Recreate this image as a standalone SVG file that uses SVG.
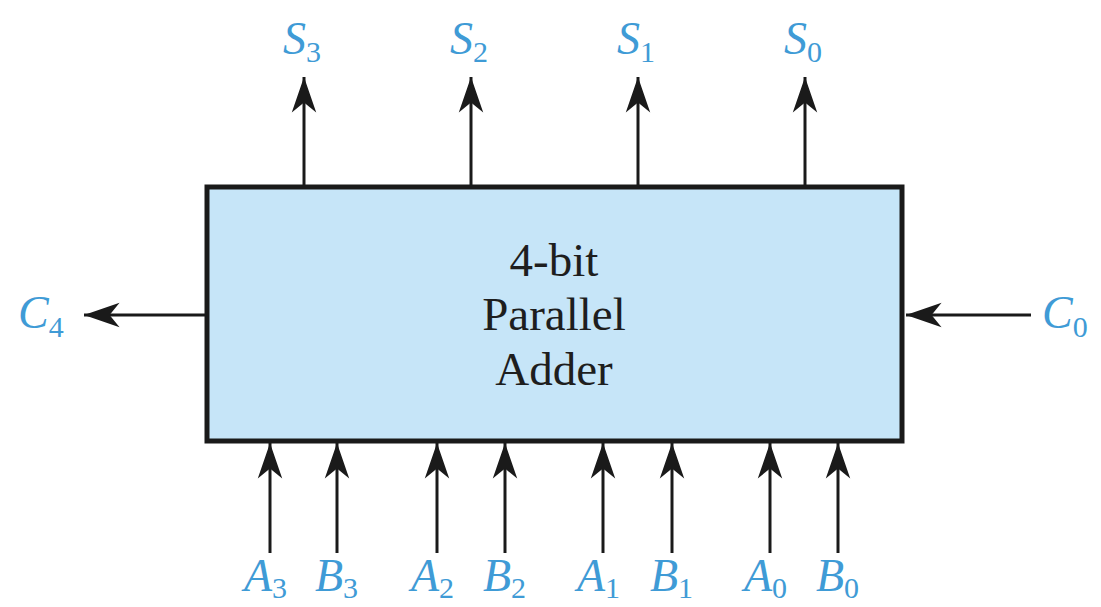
<svg xmlns="http://www.w3.org/2000/svg" width="1101" height="607" viewBox="0 0 1101 607">
<style>
.lbl{font-family:"Liberation Serif","Times New Roman",serif;font-size:46px;fill:#3f9bd6;font-style:italic}
.sub{font-style:normal;font-size:30px}
.wire{stroke:#1a1a1a;stroke-width:3;fill:none;marker-end:url(#ah)}
.body{font-family:"Liberation Serif","Times New Roman",serif;font-size:47px;fill:#1e1e1e;text-anchor:middle}
</style>
<defs>
<marker id="ah" markerUnits="userSpaceOnUse" markerWidth="40" markerHeight="30" viewBox="-34 -13 36 26" refX="0" refY="0" orient="auto">
<path d="M0,0 L-32,-11 L-23,0 L-32,11 Z" fill="#1a1a1a"/>
</marker>
</defs>
<g id="adder">
<rect x="207" y="187" width="695" height="254" fill="#c6e5f8" stroke="#1a1a1a" stroke-width="5"/>
<text class="body" x="554" y="276">4-bit</text>
<text class="body" x="554" y="330">Parallel</text>
<text class="body" x="554" y="385">Adder</text>
</g>
<g id="connectors">
<line class="wire" x1="304" y1="185" x2="304" y2="77"/>
<line class="wire" x1="471" y1="185" x2="471" y2="77"/>
<line class="wire" x1="638" y1="185" x2="638" y2="77"/>
<line class="wire" x1="805" y1="185" x2="805" y2="77"/>
<line class="wire" x1="205" y1="315" x2="84" y2="315"/>
<line class="wire" x1="1031" y1="315" x2="906" y2="315"/>
<line class="wire" x1="270" y1="553" x2="270" y2="443"/>
<line class="wire" x1="337" y1="553" x2="337" y2="443"/>
<line class="wire" x1="437" y1="553" x2="437" y2="443"/>
<line class="wire" x1="505" y1="553" x2="505" y2="443"/>
<line class="wire" x1="603" y1="553" x2="603" y2="443"/>
<line class="wire" x1="672" y1="553" x2="672" y2="443"/>
<line class="wire" x1="770" y1="553" x2="770" y2="443"/>
<line class="wire" x1="838" y1="553" x2="838" y2="443"/>
</g>
<g id="S3"><text class="lbl" x="283" y="54">S<tspan class="sub" dy="8">3</tspan></text></g>
<g id="S2"><text class="lbl" x="450" y="54">S<tspan class="sub" dy="8">2</tspan></text></g>
<g id="S1"><text class="lbl" x="617" y="54">S<tspan class="sub" dy="8">1</tspan></text></g>
<g id="S0"><text class="lbl" x="784" y="54">S<tspan class="sub" dy="8">0</tspan></text></g>
<g id="C4"><text class="lbl" x="18" y="328">C<tspan class="sub" dy="9">4</tspan></text></g>
<g id="C0"><text class="lbl" x="1042" y="328">C<tspan class="sub" dy="9">0</tspan></text></g>
<g id="A3"><text class="lbl" x="244" y="591">A<tspan class="sub" dy="7">3</tspan></text></g>
<g id="B3"><text class="lbl" x="315" y="591">B<tspan class="sub" dy="7">3</tspan></text></g>
<g id="A2"><text class="lbl" x="411" y="591">A<tspan class="sub" dy="7">2</tspan></text></g>
<g id="B2"><text class="lbl" x="483" y="591">B<tspan class="sub" dy="7">2</tspan></text></g>
<g id="A1"><text class="lbl" x="577" y="591">A<tspan class="sub" dy="7">1</tspan></text></g>
<g id="B1"><text class="lbl" x="650" y="591">B<tspan class="sub" dy="7">1</tspan></text></g>
<g id="A0"><text class="lbl" x="744" y="591">A<tspan class="sub" dy="7">0</tspan></text></g>
<g id="B0"><text class="lbl" x="816" y="591">B<tspan class="sub" dy="7">0</tspan></text></g>
</svg>
